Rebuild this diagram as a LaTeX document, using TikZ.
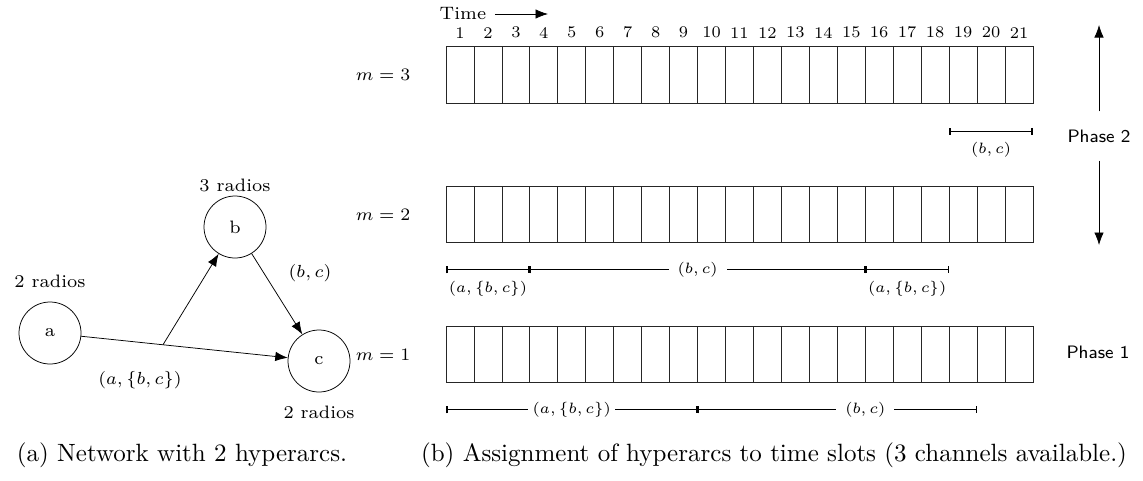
\documentclass[tikz,border=0pt]{standalone}
\usepackage{amsmath}
\usetikzlibrary{positioning,arrows.meta,calc}

\tikzset{
  figtext/.style={font=\fontsize{7.2}{8.6}\selectfont},
  slotnum/.style={font=\fontsize{6.5}{7.8}\selectfont},
  radio/.style={circle, draw, minimum size=24.8pt, inner sep=0pt, figtext},
  slot/.style={draw=black!85, minimum width=11.18pt, minimum height=22.6pt, inner sep=0pt, outer sep=0pt},
  slotspan/.style={{Bar[width=2.8pt,line width=0.6pt]}-{Bar[width=2.8pt,line width=0.6pt]}},
  gaplabel/.style={slotnum, fill=white, inner xsep=3.6pt},
  phase/.style={font=\fontsize{7.2}{8.6}\selectfont\sffamily, inner ysep=7.2pt}
}

\begin{document}
\begin{tikzpicture}[x=0.4pt, y=-0.4pt, line width=0.3pt, >={Latex[length=5pt,width=3.8pt]}]
  \useasboundingbox (0,0) rectangle (1143,480);

  % Network with two hyperarcs
  \node[radio] (a) at (50,333) {a};
  \node[radio] (b) at (235,227) {b};
  \node[radio] (c) at (319,361) {c};
  \node[figtext, above=2pt of a] (ra) {2 radios};
  \node[figtext, above=-2pt of b] (rb) {3 radios};
  \node[figtext, below=2pt of c] (rc) {2 radios};

  \coordinate (split) at ($(a)!0.42!(c)$);
  \draw[->] (a) -- (c);
  \draw[->] (split) -- (b);
  \draw[->] (b) -- (c);
  \node[figtext] (lbc) at (310,273) {$(b,c)$};
  \node[figtext] (labc) at (140,380) {$(a,\{b,c\})$};

  % Time axis
  \node[figtext] (time) at (463,14) {Time};
  \coordinate (timeend) at (548,14);
  \draw[->] (time) -- (timeend);

  % Slots, one row per channel
  \foreach \m/\y in {3/75, 2/214.5, 1/354.5} {
    \node[figtext] (m\m) at (383,\y) {$m=\m$};
    \foreach \i in {1,...,21}
      \node[slot] (s\m-\i) at ({446+(\i-0.5)*27.95},\y) {};
  }
  \foreach \i in {1,...,21}
    \node[slotnum, above=0pt of s3-\i] (n\i) {\i};

  % Schedule on m = 3
  \coordinate (u18) at ($(s3-19.south west)+(0,28)$);
  \coordinate (u21) at ($(s3-21.south east)+(0,28)$);
  \draw[slotspan] (u18) -- node[slotnum, below=1pt] (l31) {$(b,c)$} (u21);

  % Schedule on m = 2
  \coordinate (v0) at ($(s2-1.south west)+(0,27)$);
  \coordinate (v3) at ($(s2-3.south east)+(0,27)$);
  \coordinate (v15) at ($(s2-15.south east)+(0,27)$);
  \coordinate (v18) at ($(s2-18.south east)+(0,27)$);
  \draw[slotspan] (v0) -- node[slotnum, below=1pt] (l21) {$(a,\{b,c\})$} (v3);
  \draw[slotspan] (v3) -- node[gaplabel] (l22) {$(b,c)$} (v15);
  \draw[slotspan] (v15) -- node[slotnum, below=1pt] (l23) {$(a,\{b,c\})$} (v18);

  % Schedule on m = 1
  \coordinate (w0) at ($(s1-1.south west)+(0,27)$);
  \coordinate (w9) at ($(s1-9.south east)+(0,27)$);
  \coordinate (w19) at ($(s1-19.south east)+(0,27)$);
  \draw[slotspan] (w0) -- node[gaplabel, inner xsep=1.8pt] (l11) {$(a,\{b,c\})$} (w9);
  \draw[slotspan] (w9) -- node[gaplabel, pos=0.6] (l12) {$(b,c)$} (w19);

  % Phases
  \node[phase] (ph2) at (1099,136) {Phase 2};
  \coordinate (ph2top) at (1099,25);
  \coordinate (ph2bot) at (1099,245);
  \draw[->] (ph2) -- (ph2top);
  \draw[->] (ph2) -- (ph2bot);
  \node[phase] (ph1) at (1098,352) {Phase 1};

  % Captions
  \node (capa) at (182,455) {(a) Network with 2 hyperarcs.};
  \node (capb) at (774,455) {(b) Assignment of hyperarcs to time slots (3 channels available.)};
\end{tikzpicture}
\end{document}
